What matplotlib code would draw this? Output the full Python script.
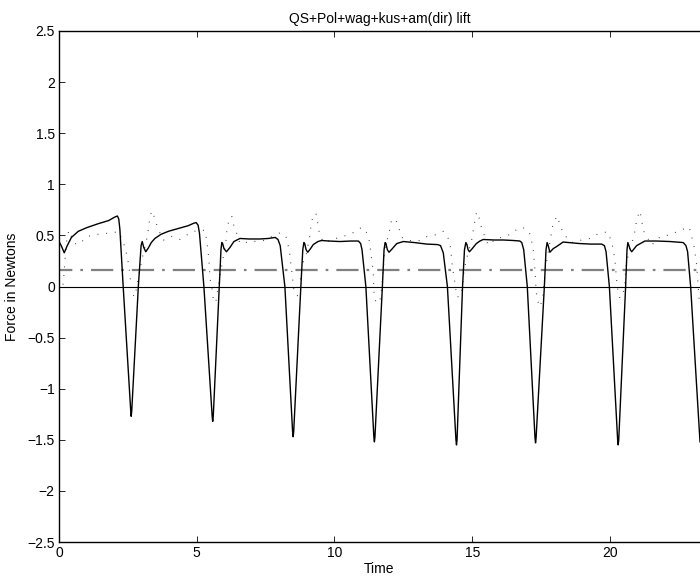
import matplotlib
matplotlib.use("Agg")
import matplotlib.pyplot as plt
from matplotlib.ticker import FixedLocator, FixedFormatter

plt.rcParams['font.family'] = ['Liberation Sans', 'DejaVu Sans']

title = "QS+Pol+wag+kus+am(dir) lift"
xlabel = "Time"
ylabel = "Force in Newtons"

# model (solid) curve
model_t = [0.00, 0.08, 0.19, 0.30, 0.45, 0.70, 1.00, 1.43, 1.80, 2.03, 2.12, 2.17, 2.21, 2.33, 2.60, 2.62, 2.64, 2.88, 2.98, 3.02, 3.08, 3.15, 3.25, 3.35, 3.48, 3.70, 3.97, 4.30, 4.69, 4.90, 4.98, 5.05, 5.10, 5.26, 5.56, 5.58, 5.60, 5.82, 5.88, 5.91, 5.94, 5.99, 6.08, 6.20, 6.35, 6.57, 6.90, 7.30, 7.60, 7.85, 7.95, 8.03, 8.20, 8.48, 8.50, 8.52, 8.78, 8.85, 8.89, 8.92, 8.97, 9.03, 9.13, 9.23, 9.40, 9.53, 9.80, 10.20, 10.60, 10.87, 10.95, 11.00, 11.14, 11.43, 11.45, 11.47, 11.74, 11.80, 11.84, 11.87, 11.92, 11.98, 12.10, 12.26, 12.50, 12.90, 13.35, 13.75, 13.85, 13.95, 14.10, 14.41, 14.43, 14.45, 14.65, 14.72, 14.77, 14.81, 14.85, 14.90, 15.00, 15.15, 15.28, 15.40, 15.80, 16.13, 16.50, 16.73, 16.80, 16.87, 17.00, 17.28, 17.30, 17.32, 17.62, 17.68, 17.72, 17.76, 17.82, 17.94, 18.06, 18.30, 18.91, 19.30, 19.70, 19.80, 19.86, 19.98, 20.28, 20.30, 20.32, 20.57, 20.62, 20.65, 20.69, 20.74, 20.79, 20.97, 21.27, 21.70, 22.18, 22.66, 22.76, 22.82, 22.93, 23.27]
model_f = [0.44, 0.40, 0.33, 0.40, 0.48, 0.54, 0.575, 0.615, 0.645, 0.68, 0.69, 0.66, 0.56, 0.00, -1.20, -1.27, -1.22, 0.00, 0.40, 0.44, 0.38, 0.34, 0.38, 0.43, 0.47, 0.51, 0.54, 0.565, 0.595, 0.62, 0.625, 0.60, 0.52, 0.00, -1.27, -1.32, -1.27, 0.00, 0.36, 0.43, 0.42, 0.37, 0.34, 0.38, 0.44, 0.47, 0.465, 0.465, 0.47, 0.48, 0.46, 0.40, 0.00, -1.42, -1.47, -1.42, 0.00, 0.36, 0.43, 0.42, 0.36, 0.335, 0.37, 0.41, 0.44, 0.45, 0.445, 0.44, 0.445, 0.445, 0.42, 0.36, 0.00, -1.47, -1.52, -1.47, 0.00, 0.36, 0.43, 0.42, 0.36, 0.335, 0.37, 0.42, 0.44, 0.43, 0.415, 0.41, 0.40, 0.33, 0.00, -1.50, -1.55, -1.50, 0.00, 0.36, 0.43, 0.41, 0.36, 0.34, 0.37, 0.42, 0.445, 0.46, 0.455, 0.455, 0.45, 0.445, 0.43, 0.36, 0.00, -1.48, -1.53, -1.48, 0.00, 0.36, 0.43, 0.40, 0.335, 0.37, 0.39, 0.435, 0.42, 0.415, 0.415, 0.40, 0.34, 0.00, -1.50, -1.55, -1.50, 0.00, 0.36, 0.43, 0.40, 0.36, 0.34, 0.40, 0.445, 0.445, 0.44, 0.43, 0.40, 0.34, 0.00, -1.52]

# measured (dotted) curve
meas_t = [0.00, 0.13, 0.17, 0.22, 0.28, 0.36, 0.48, 0.62, 0.79, 1.03, 1.37, 1.73, 2.15, 2.28, 2.40, 2.48, 2.54, 2.58, 2.61, 2.67, 2.76, 2.88, 3.02, 3.18, 3.24, 3.28, 3.36, 3.48, 3.57, 3.79, 4.09, 4.39, 4.57, 4.75, 5.03, 5.30, 5.36, 5.44, 5.48, 5.54, 5.60, 5.69, 5.78, 5.94, 6.06, 6.09, 6.15, 6.27, 6.33, 6.45, 6.57, 6.75, 7.05, 7.42, 8.02, 8.24, 8.32, 8.38, 8.42, 8.47, 8.50, 8.54, 8.66, 8.75, 8.83, 8.99, 9.05, 9.11, 9.15, 9.23, 9.33, 9.39, 9.45, 9.60, 9.90, 10.17, 10.50, 10.74, 10.99, 11.19, 11.29, 11.32, 11.37, 11.41, 11.42, 11.43, 11.50, 11.62, 11.68, 11.75, 11.81, 11.87, 12.01, 12.08, 12.23, 12.35, 12.48, 12.74, 13.08, 13.40, 13.65, 13.95, 14.13, 14.22, 14.25, 14.29, 14.34, 14.40, 14.43, 14.56, 14.65, 14.70, 14.80, 14.98, 15.04, 15.10, 15.16, 15.26, 15.34, 15.58, 15.89, 16.25, 16.53, 16.83, 17.07, 17.16, 17.22, 17.25, 17.28, 17.30, 17.32, 17.36, 17.46, 17.56, 17.62, 17.70, 17.82, 17.88, 17.94, 18.09, 18.19, 18.31, 18.61, 18.97, 19.27, 19.57, 19.90, 20.06, 20.12, 20.18, 20.21, 20.24, 20.28, 20.36, 20.48, 20.54, 20.58, 20.70, 20.85, 20.93, 20.97, 21.09, 21.15, 21.21, 21.51, 21.84, 22.18, 22.54, 22.88, 23.05, 23.15, 23.20, 23.25, 23.27]
meas_f = [-0.05, -0.02, 0.08, 0.27, 0.455, 0.55, 0.47, 0.41, 0.43, 0.49, 0.51, 0.52, 0.535, 0.47, 0.38, 0.29, 0.19, 0.10, 0.015, -0.08, -0.10, 0.09, 0.275, 0.46, 0.55, 0.64, 0.74, 0.67, 0.58, 0.455, 0.49, 0.46, 0.49, 0.525, 0.55, 0.55, 0.46, 0.275, 0.08, 0.00, -0.115, -0.16, 0.00, 0.25, 0.44, 0.535, 0.625, 0.69, 0.61, 0.52, 0.42, 0.43, 0.44, 0.45, 0.525, 0.49, 0.40, 0.31, 0.21, 0.11, 0.025, -0.07, -0.09, 0.03, 0.21, 0.325, 0.42, 0.50, 0.60, 0.70, 0.715, 0.625, 0.525, 0.43, 0.455, 0.48, 0.505, 0.535, 0.58, 0.52, 0.42, 0.325, 0.23, 0.145, 0.05, -0.05, -0.15, -0.16, -0.10, 0.095, 0.30, 0.405, 0.56, 0.66, 0.65, 0.56, 0.47, 0.45, 0.45, 0.495, 0.505, 0.54, 0.47, 0.375, 0.275, 0.18, 0.09, -0.01, -0.10, -0.10, 0.00, 0.145, 0.275, 0.455, 0.55, 0.645, 0.73, 0.665, 0.57, 0.405, 0.47, 0.49, 0.545, 0.58, 0.535, 0.44, 0.35, 0.26, 0.16, 0.065, -0.035, -0.13, -0.20, -0.115, 0.065, 0.24, 0.43, 0.525, 0.625, 0.69, 0.60, 0.515, 0.43, 0.455, 0.47, 0.515, 0.535, 0.445, 0.357, 0.265, 0.17, 0.07, -0.02, -0.115, -0.07, 0.03, 0.19, 0.357, 0.47, 0.57, 0.66, 0.74, 0.65, 0.55, 0.405, 0.49, 0.505, 0.55, 0.58, 0.40, 0.21, 0.015, -0.17, -0.19]

mean_force = 0.165
x_range = [0.0, 23.27]
y_ticks = [-2.5, -2.0, -1.5, -1.0, -0.5, 0.0, 0.5, 1.0, 1.5, 2.0, 2.5]
y_tick_labels = ["\u22122.5", "\u22122", "\u22121.5", "\u22121", "\u22120.5", "0", "0.5", "1", "1.5", "2", "2.5"]
x_ticks = [0, 5, 10, 15, 20]
x_tick_labels = ["0", "5", "10", "15", "20"]

fig = plt.figure(figsize=(7.0, 5.79), dpi=100)
ax = fig.add_axes([59/700, 37/579, 641/700, 511/579])

ax.plot(meas_t, meas_f, color="#333333", linewidth=0.8, linestyle=(0, (0.8, 7)))
ax.plot(x_range, [mean_force, mean_force], color="#808080", linewidth=1.6,
        linestyle=(4, (10, 3.6, 1.2, 3.6)))
ax.plot(x_range, [0, 0], color="black", linewidth=0.8)
ax.plot(model_t, model_f, color="black", linewidth=1.0)

ax.set_xlim(x_range)
ax.set_ylim(-2.5, 2.5)
ax.xaxis.set_major_locator(FixedLocator(x_ticks))
ax.xaxis.set_major_formatter(FixedFormatter(x_tick_labels))
ax.yaxis.set_major_locator(FixedLocator(y_ticks))
ax.yaxis.set_major_formatter(FixedFormatter(y_tick_labels))
ax.tick_params(direction="in", length=4, width=0.6, labelsize=10, top=True, right=False, pad=3)
for s in ["left", "bottom", "top"]:
    ax.spines[s].set_linewidth(1.0)
ax.spines["right"].set_visible(False)

ax.set_title(title, fontsize=10, pad=6)
ax.set_xlabel(xlabel, fontsize=10, labelpad=1)
ax.set_ylabel(ylabel, fontsize=10, labelpad=6)

fig.savefig("out.png", dpi=100)
